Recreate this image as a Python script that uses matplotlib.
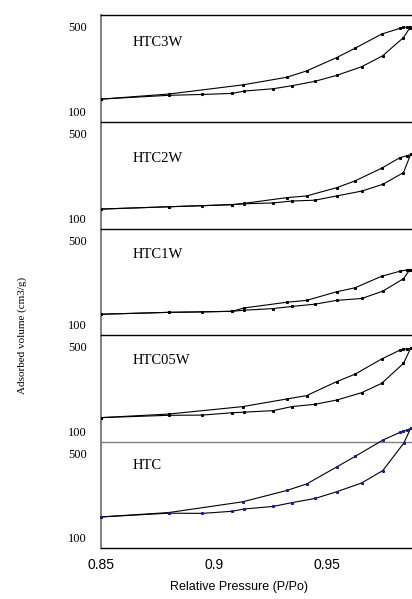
import numpy as np
import matplotlib
matplotlib.use('Agg')
import matplotlib.pyplot as plt

# Nitrogen isotherms, high pressure part
samples = ['HTC3W', 'HTC2W', 'HTC1W', 'HTC05W', 'HTC']

ads_x = {
    'HTC3W': [0.85, 0.8801, 0.8948, 0.9081, 0.9134, 0.9262, 0.9344, 0.9447, 0.9543, 0.9654, 0.9747, 0.9838, 0.9867],
    'HTC2W': [0.85, 0.8801, 0.8948, 0.9081, 0.9134, 0.9262, 0.9344, 0.9447, 0.9543, 0.9654, 0.9747, 0.9838, 0.9870],
    'HTC1W': [0.85, 0.8801, 0.8948, 0.9081, 0.9134, 0.9262, 0.9344, 0.9447, 0.9543, 0.9654, 0.9747, 0.9838, 0.9867],
    'HTC05W': [0.85, 0.8801, 0.8948, 0.9081, 0.9134, 0.9262, 0.9344, 0.9447, 0.9543, 0.9654, 0.9742, 0.9838, 0.9870],
    'HTC': [0.85, 0.8801, 0.8948, 0.9081, 0.9134, 0.9262, 0.9344, 0.9447, 0.9543, 0.9654, 0.9747, 0.9840, 0.9870],
}
ads_y = {
    'HTC3W': [158, 176, 180, 185, 196, 207, 221, 242, 270, 311, 363, 448, 495],
    'HTC2W': [144, 155, 160, 165, 169, 173, 182, 186, 206, 229, 261, 316, 402],
    'HTC1W': [149, 158, 160, 163, 168, 176, 186, 197, 215, 224, 259, 318, 362],
    'HTC05W': [165, 176, 177, 188, 191, 198, 217, 228, 248, 283, 327, 421, 492],
    'HTC': [198, 216, 215, 225, 236, 248, 266, 286, 318, 360, 419, 550, 620],
}
des_x = {
    'HTC3W': [0.85, 0.8801, 0.9127, 0.9322, 0.9410, 0.9543, 0.9624, 0.9742, 0.9823, 0.9838, 0.9852, 0.9867],
    'HTC2W': [0.85, 0.8801, 0.9081, 0.9134, 0.9322, 0.9410, 0.9543, 0.9624, 0.9742, 0.9823, 0.9852, 0.9870],
    'HTC1W': [0.85, 0.8801, 0.9081, 0.9134, 0.9322, 0.9410, 0.9543, 0.9624, 0.9742, 0.9823, 0.9852, 0.9867],
    'HTC05W': [0.85, 0.8801, 0.9127, 0.9322, 0.9410, 0.9543, 0.9624, 0.9742, 0.9823, 0.9838, 0.9852, 0.9870],
    'HTC': [0.85, 0.8801, 0.9127, 0.9322, 0.9410, 0.9543, 0.9624, 0.9747, 0.9823, 0.9838, 0.9852, 0.9870],
}
des_y = {
    'HTC3W': [158, 182, 225, 261, 291, 354, 398, 465, 492, 496, 498, 500],
    'HTC2W': [144, 155, 165, 171, 198, 206, 245, 277, 337, 387, 395, 402],
    'HTC1W': [149, 158, 163, 179, 206, 215, 256, 275, 330, 354, 360, 362],
    'HTC05W': [165, 182, 217, 253, 269, 335, 370, 442, 484, 488, 490, 492],
    'HTC': [198, 219, 270, 324, 355, 436, 486, 564, 601, 606, 611, 620],
}

x_ticks = [0.85, 0.9, 0.95]
x_tick_labels = ['0.85', '0.9', '0.95']
y_ticks = [100, 500]

serif = 'Liberation Serif'
sans = 'Liberation Sans'

fig = plt.figure(figsize=(4.12, 5.99), dpi=100)

# panel edges in figure fraction (top to bottom)
edges = [0.975, 0.7963, 0.6177, 0.4407, 0.2621, 0.0851]
label_off = [28, 36, 26, 25, 23]  # px below panel top
left = 0.2444

for i, name in enumerate(samples):
    top, bot = edges[i], edges[i + 1]
    ax = fig.add_axes([left, bot, 1.0 - left, top - bot])
    ax.patch.set_alpha(0)
    ax.set_xlim(0.85, 0.9876)
    ax.set_ylim(50, 555)

    mcolor = '#1a1a9a' if name == 'HTC' else 'black'
    clip = name != 'HTC'
    for xs, ys in [(ads_x[name], ads_y[name]), (des_x[name], des_y[name])]:
        ax.plot(xs, ys, color='black', lw=0.8, marker='s', ms=1.2,
                mfc=mcolor, mec=mcolor, clip_on=clip, zorder=3)

    ax.spines['right'].set_visible(False)
    ax.spines['left'].set_color('#808080')
    ax.spines['left'].set_linewidth(1.4)
    ax.spines['top'].set_color('#808080' if name == 'HTC' else 'black')
    ax.spines['top'].set_linewidth(1.0)
    if i < len(samples) - 1:
        ax.spines['bottom'].set_visible(False)
        ax.set_xticks([])
    else:
        ax.spines['bottom'].set_color('black')
        ax.spines['bottom'].set_linewidth(1.0)
        ax.set_xticks(x_ticks)
        ax.set_xticklabels(x_tick_labels, fontfamily=sans, fontsize=10)
        ax.tick_params(axis='x', length=0, pad=7)

    ax.set_yticks(y_ticks)
    ax.set_yticklabels([str(v) for v in y_ticks], fontfamily=serif, fontsize=9)
    ax.tick_params(axis='y', length=0, pad=10)

    h_px = (top - bot) * 599
    ax.text(32 / 311, 1 - label_off[i] / h_px, name, transform=ax.transAxes,
            fontfamily=serif, fontsize=10.5, va='center', ha='left')

fig.text(0.58, 0.02, 'Relative Pressure (P/Po)', fontfamily=sans, fontsize=9,
         ha='center', va='center')
fig.text(0.055, 0.44, 'Adsorbed volume (cm3/g)', fontfamily=serif, fontsize=8,
         rotation=90, ha='center', va='center')

fig.savefig('out.png', dpi=100)
